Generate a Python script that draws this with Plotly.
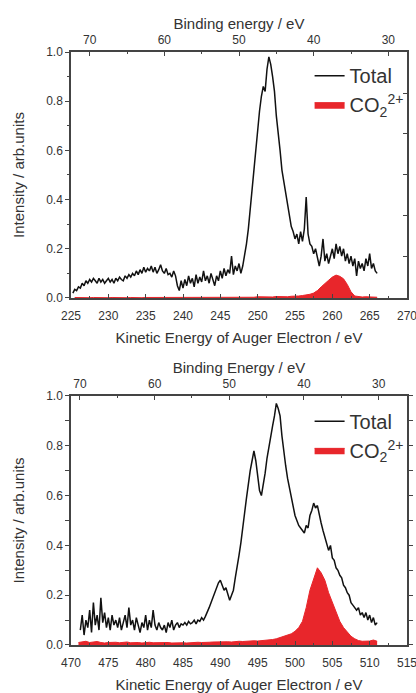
import plotly.graph_objects as go

# ---- C 1s Auger spectrum (kinetic energy, eV) ----
c_total_ke = [
    225.25, 225.5, 225.75, 226.0, 226.25, 226.5, 226.75, 227.0, 227.25, 227.5, 227.75, 228.0,
    228.25, 228.5, 228.75, 229.0, 229.25, 229.5, 229.75, 230.0, 230.25, 230.5, 230.75, 231.0,
    231.25, 231.5, 231.75, 232.0, 232.25, 232.5, 232.75, 233.0, 233.25, 233.5, 233.75, 234.0,
    234.25, 234.5, 234.75, 235.0, 235.25, 235.5, 235.75, 236.0, 236.25, 236.5, 236.75, 237.0,
    237.25, 237.5, 237.75, 238.0, 238.25, 238.5, 238.75, 239.0, 239.25, 239.5, 239.75, 240.0,
    240.25, 240.5, 240.75, 241.0, 241.25, 241.5, 241.75, 242.0, 242.25, 242.5, 242.75, 243.0,
    243.25, 243.5, 243.75, 244.0, 244.25, 244.5, 244.75, 245.0, 245.25, 245.5, 245.75, 246.0,
    246.25, 246.5, 246.75, 247.0, 247.25, 247.5, 247.75, 248.0, 248.25, 248.5, 248.75, 249.0,
    249.25, 249.5, 249.75, 250.0, 250.25, 250.5, 250.75, 251.0, 251.25, 251.5, 251.75, 252.0,
    252.25, 252.5, 252.75, 253.0, 253.25, 253.5, 253.75, 254.0, 254.25, 254.5, 254.75, 255.0,
    255.25, 255.5, 255.75, 256.0, 256.25, 256.5, 256.75, 257.0, 257.25, 257.5, 257.75, 258.0,
    258.25, 258.5, 258.75, 259.0, 259.25, 259.5, 259.75, 260.0, 260.25, 260.5, 260.75, 261.0,
    261.25, 261.5, 261.75, 262.0, 262.25, 262.5, 262.75, 263.0, 263.25, 263.5, 263.75, 264.0,
    264.25, 264.5, 264.75, 265.0, 265.25, 265.5, 265.75, 266.0,
]
c_total_int = [
    0.02, 0.035, 0.03, 0.045, 0.04, 0.06, 0.05, 0.07, 0.06, 0.075, 0.065, 0.08,
    0.07, 0.06, 0.08, 0.065, 0.075, 0.06, 0.07, 0.08, 0.065, 0.075, 0.06, 0.08,
    0.07, 0.085, 0.075, 0.07, 0.09, 0.08, 0.095, 0.085, 0.10, 0.09, 0.11, 0.095,
    0.115, 0.10, 0.125, 0.105, 0.12, 0.11, 0.13, 0.105, 0.125, 0.10, 0.115, 0.135,
    0.11, 0.10, 0.12, 0.095, 0.10, 0.085, 0.11, 0.09, 0.05, 0.03, 0.07, 0.04,
    0.075, 0.05, 0.09, 0.06, 0.08, 0.045, 0.095, 0.06, 0.085, 0.065, 0.11, 0.07,
    0.09, 0.06, 0.10, 0.075, 0.05, 0.09, 0.07, 0.11, 0.08, 0.12, 0.09, 0.115,
    0.10, 0.17, 0.095, 0.13, 0.11, 0.14, 0.10, 0.13, 0.17, 0.22, 0.28, 0.36,
    0.45, 0.55, 0.62, 0.70, 0.76, 0.82, 0.86, 0.84, 0.93, 0.98, 0.95, 0.90,
    0.84, 0.74, 0.68, 0.60, 0.52, 0.47, 0.42, 0.37, 0.33, 0.29, 0.27, 0.24,
    0.26, 0.22, 0.27, 0.23, 0.28, 0.41, 0.26, 0.22, 0.21, 0.18, 0.20, 0.16,
    0.13, 0.17, 0.24, 0.15, 0.18, 0.14, 0.17, 0.20, 0.16, 0.22, 0.18, 0.21,
    0.17, 0.20, 0.15, 0.18, 0.14, 0.17, 0.13, 0.16, 0.09, 0.15, 0.12, 0.14,
    0.11, 0.16, 0.13, 0.18, 0.12, 0.14, 0.11, 0.10,
]
c_dication_ke = [
    225.5, 226.0, 226.5, 227.0, 227.5, 228.0, 228.5, 229.0, 229.5, 230.0, 230.5, 231.0,
    231.5, 232.0, 232.5, 233.0, 233.5, 234.0, 234.5, 235.0, 235.5, 236.0, 236.5, 237.0,
    237.5, 238.0, 238.5, 239.0, 239.5, 240.0, 240.5, 241.0, 241.5, 242.0, 242.5, 243.0,
    243.5, 244.0, 244.5, 245.0, 245.5, 246.0, 246.5, 247.0, 247.5, 248.0, 248.5, 249.0,
    249.5, 250.0, 250.5, 251.0, 251.5, 252.0, 252.5, 253.0, 253.5, 254.0, 254.5, 255.0,
    255.5, 256.0, 256.5, 257.0, 257.5, 258.0, 258.5, 259.0, 259.5, 260.0, 260.5, 261.0,
    261.5, 262.0, 262.5, 263.0, 263.5, 264.0, 264.5, 265.0, 265.5, 266.0,
]
c_dication_int = [
    0.002, 0.001, 0.002, 0.002, 0.001, 0.002, 0.001, 0.002, 0.002, 0.001, 0.002, 0.001,
    0.002, 0.002, 0.001, 0.002, 0.001, 0.002, 0.001, 0.002, 0.002, 0.001, 0.002, 0.001,
    0.002, 0.002, 0.001, 0.002, 0.002, 0.001, 0.002, 0.002, 0.001, 0.002, 0.002, 0.001,
    0.002, 0.003, 0.002, 0.002, 0.003, 0.002, 0.003, 0.002, 0.003, 0.003, 0.002, 0.003,
    0.003, 0.005, 0.004, 0.006, 0.005, 0.004, 0.006, 0.005, 0.006, 0.005, 0.007, 0.006,
    0.008, 0.010, 0.012, 0.015, 0.020, 0.030, 0.045, 0.060, 0.072, 0.085, 0.093, 0.088,
    0.078, 0.055, 0.025, 0.008, 0.005, 0.004, 0.005, 0.004, 0.004, 0.003,
]

# ---- O 1s Auger spectrum (kinetic energy, eV) ----
o_total_ke = [
    471.25, 471.5, 471.75, 472.0, 472.25, 472.5, 472.75, 473.0, 473.25, 473.5, 473.75, 474.0,
    474.25, 474.5, 474.75, 475.0, 475.25, 475.5, 475.75, 476.0, 476.25, 476.5, 476.75, 477.0,
    477.25, 477.5, 477.75, 478.0, 478.25, 478.5, 478.75, 479.0, 479.25, 479.5, 479.75, 480.0,
    480.25, 480.5, 480.75, 481.0, 481.25, 481.5, 481.75, 482.0, 482.25, 482.5, 482.75, 483.0,
    483.25, 483.5, 483.75, 484.0, 484.25, 484.5, 484.75, 485.0, 485.25, 485.5, 485.75, 486.0,
    486.25, 486.5, 486.75, 487.0, 487.25, 487.5, 487.75, 488.0, 488.25, 488.5, 488.75, 489.0,
    489.25, 489.5, 489.75, 490.0, 490.25, 490.5, 490.75, 491.0, 491.25, 491.5, 491.75, 492.0,
    492.25, 492.5, 492.75, 493.0, 493.25, 493.5, 493.75, 494.0, 494.25, 494.5, 494.75, 495.0,
    495.25, 495.5, 495.75, 496.0, 496.25, 496.5, 496.75, 497.0, 497.25, 497.5, 497.75, 498.0,
    498.25, 498.5, 498.75, 499.0, 499.25, 499.5, 499.75, 500.0, 500.25, 500.5, 500.75, 501.0,
    501.25, 501.5, 501.75, 502.0, 502.25, 502.5, 502.75, 503.0, 503.25, 503.5, 503.75, 504.0,
    504.25, 504.5, 504.75, 505.0, 505.25, 505.5, 505.75, 506.0, 506.25, 506.5, 506.75, 507.0,
    507.25, 507.5, 507.75, 508.0, 508.25, 508.5, 508.75, 509.0, 509.25, 509.5, 509.75, 510.0,
    510.25, 510.5, 510.75, 511.0,
]
o_total_int = [
    0.06, 0.12, 0.04, 0.10, 0.07, 0.14, 0.05, 0.17, 0.08, 0.12, 0.06, 0.19,
    0.09, 0.13, 0.07, 0.11, 0.06, 0.12, 0.08, 0.10, 0.07, 0.11, 0.06, 0.09,
    0.12, 0.07, 0.15, 0.08, 0.10, 0.06, 0.11, 0.08, 0.05, 0.09, 0.07, 0.12,
    0.06, 0.10, 0.07, 0.14, 0.08, 0.06, 0.09, 0.07, 0.06, 0.08, 0.05, 0.09,
    0.07, 0.10, 0.06, 0.08, 0.09, 0.07, 0.085, 0.08, 0.09, 0.08, 0.095, 0.085,
    0.09, 0.10, 0.085, 0.10, 0.095, 0.11, 0.10, 0.115, 0.13, 0.15, 0.17, 0.19,
    0.21, 0.23, 0.25, 0.26, 0.24, 0.22, 0.23, 0.20, 0.18, 0.20, 0.22, 0.27,
    0.31, 0.36, 0.41, 0.46, 0.53, 0.59, 0.65, 0.70, 0.74, 0.78, 0.74, 0.68,
    0.62, 0.60, 0.64, 0.69, 0.75, 0.80, 0.84, 0.88, 0.92, 0.97, 0.95, 0.92,
    0.84, 0.77, 0.72, 0.67, 0.63, 0.59, 0.55, 0.52, 0.50, 0.48, 0.47, 0.46,
    0.45, 0.48, 0.47, 0.52, 0.54, 0.57, 0.55, 0.56, 0.52, 0.49, 0.46, 0.43,
    0.41, 0.38, 0.40, 0.35, 0.34, 0.31, 0.30, 0.28, 0.27, 0.24, 0.23, 0.21,
    0.20, 0.17, 0.16, 0.15, 0.14, 0.15, 0.12, 0.13, 0.11, 0.13, 0.10, 0.12,
    0.09, 0.11, 0.08, 0.09,
]
o_dication_ke = [
    471.0, 471.5, 472.0, 472.5, 473.0, 473.5, 474.0, 474.5, 475.0, 475.5, 476.0, 476.5,
    477.0, 477.5, 478.0, 478.5, 479.0, 479.5, 480.0, 480.5, 481.0, 481.5, 482.0, 482.5,
    483.0, 483.5, 484.0, 484.5, 485.0, 485.5, 486.0, 486.5, 487.0, 487.5, 488.0, 488.5,
    489.0, 489.5, 490.0, 490.5, 491.0, 491.5, 492.0, 492.5, 493.0, 493.5, 494.0, 494.5,
    495.0, 495.5, 496.0, 496.5, 497.0, 497.5, 498.0, 498.5, 499.0, 499.5, 500.0, 500.5,
    501.0, 501.5, 502.0, 502.5, 503.0, 503.5, 504.0, 504.5, 505.0, 505.5, 506.0, 506.5,
    507.0, 507.5, 508.0, 508.5, 509.0, 509.5, 510.0, 510.5, 511.0,
]
o_dication_int = [
    0.010, 0.012, 0.015, 0.010, 0.012, 0.014, 0.010, 0.008, 0.010, 0.012, 0.011, 0.009,
    0.010, 0.012, 0.009, 0.011, 0.010, 0.008, 0.010, 0.011, 0.009, 0.010, 0.008, 0.009,
    0.010, 0.008, 0.009, 0.010, 0.009, 0.008, 0.010, 0.009, 0.011, 0.010, 0.012, 0.011,
    0.012, 0.013, 0.012, 0.014, 0.013, 0.012, 0.014, 0.015, 0.014, 0.016, 0.015, 0.017,
    0.016, 0.017, 0.018, 0.020, 0.022, 0.025, 0.030, 0.035, 0.040, 0.045, 0.055, 0.070,
    0.095, 0.150, 0.220, 0.270, 0.310, 0.290, 0.260, 0.210, 0.170, 0.130, 0.095, 0.070,
    0.050, 0.035, 0.025, 0.018, 0.015, 0.014, 0.016, 0.020, 0.015,
]

# Core-level binding energies used for the upper (binding-energy) scales
c1s_binding = 297.5
o1s_binding = 541.2

ke_range_c = [225, 270]
ke_range_o = [470, 515]

FONT = "Liberation Sans, Arial, sans-serif"
TXT = "#333333"
AX = "#444444"
RED = "#e8262b"
LINE_W = 1.5

DICATION = "CO<sub>2</sub><sup>2+</sup>"

fig = go.Figure()

fig.add_trace(go.Scatter(x=c_total_ke, y=c_total_int, mode="lines", name="Total",
                         line=dict(color="#111111", width=LINE_W), legend="legend",
                         xaxis="x", yaxis="y"))
fig.add_trace(go.Scatter(x=c_dication_ke, y=c_dication_int, mode="lines",
                         name=DICATION, fill="tozeroy",
                         fillcolor=RED, line=dict(color=RED, width=1), legend="legend",
                         xaxis="x", yaxis="y"))
fig.add_trace(go.Scatter(x=o_total_ke, y=o_total_int, mode="lines", name="Total",
                         line=dict(color="#111111", width=LINE_W), legend="legend2",
                         xaxis="x2", yaxis="y2"))
fig.add_trace(go.Scatter(x=o_dication_ke, y=o_dication_int, mode="lines",
                         name=DICATION, fill="tozeroy",
                         fillcolor=RED, line=dict(color=RED, width=1), legend="legend2",
                         xaxis="x2", yaxis="y2"))

# Hidden copies of the total spectra on the binding-energy scales, so the
# upper axes (and the right-hand frame scale) are drawn.
hidden = dict(mode="lines", line=dict(width=0), opacity=0, showlegend=False,
              hoverinfo="skip")
fig.add_trace(go.Scatter(x=[c1s_binding - k for k in c_total_ke], y=c_total_int,
                         xaxis="x3", yaxis="y", **hidden))
fig.add_trace(go.Scatter(x=[o1s_binding - k for k in o_total_ke], y=o_total_int,
                         xaxis="x4", yaxis="y2", **hidden))
fig.add_trace(go.Scatter(x=c_total_ke, y=[v * 6 for v in c_total_int],
                         xaxis="x", yaxis="y3", **hidden))

tickfont = dict(family=FONT, size=12, color=TXT)
titlefont = dict(family=FONT, size=15, color=TXT)

ke_common = dict(showline=True, linecolor=AX, linewidth=1.5, ticks="inside", ticklen=4,
                 tickcolor=AX, tickwidth=1, dtick=5, showgrid=False, zeroline=False,
                 tickfont=tickfont, ticklabelstandoff=6, automargin=False,
                 ticklabeloverflow="allow",
                 minor=dict(ticks="inside", ticklen=2, dtick=2.5, tickcolor=AX))
be_common = dict(side="top", showline=True, linecolor=AX, linewidth=1.5, ticks="inside",
                 ticklen=4, tickcolor=AX, dtick=10, showgrid=False, zeroline=False,
                 tickfont=tickfont, ticklabelstandoff=1, automargin=False,
                 ticklabeloverflow="allow",
                 minor=dict(ticks="inside", ticklen=2, dtick=5, tickcolor=AX))
int_common = dict(range=[0, 1], dtick=0.2, tickformat=".1f", showline=True, linecolor=AX,
                  linewidth=1.5, ticks="outside", ticklen=4, tickcolor=AX, showgrid=False,
                  zeroline=False, tickfont=tickfont, automargin=False,
                  title=dict(text="Intensity / arb.units", font=titlefont, standoff=18),
                  minor=dict(ticks="outside", ticklen=2, dtick=0.1, tickcolor=AX))

legend_font = dict(family=FONT, size=20, color=TXT)

fig.update_layout(
    width=416, height=693,
    margin=dict(l=71, r=8, t=52, b=48),
    paper_bgcolor="white", plot_bgcolor="white",
    font=dict(family=FONT, color=TXT),
    xaxis=dict(range=ke_range_c, anchor="y",
               title=dict(text="Kinetic Energy of Auger Electron / eV", font=titlefont,
                          standoff=10), **ke_common),
    yaxis=dict(domain=[0.5852, 1], anchor="x", mirror=True, **int_common),
    xaxis2=dict(range=ke_range_o, anchor="y2",
                title=dict(text="Kinetic Energy of Auger Electron / eV", font=titlefont,
                           standoff=10), **ke_common),
    yaxis2=dict(domain=[0, 0.4199], anchor="x2", mirror="allticks", **int_common),
    xaxis3=dict(overlaying="x", anchor="y",
                range=[c1s_binding - ke_range_c[0], c1s_binding - ke_range_c[1]],
                title=dict(text="Binding energy / eV", font=titlefont, standoff=0),
                **be_common),
    xaxis4=dict(overlaying="x2", anchor="y2",
                range=[o1s_binding - ke_range_o[0], o1s_binding - ke_range_o[1]],
                title=dict(text="Binding Energy / eV", font=titlefont, standoff=0),
                **be_common),
    yaxis3=dict(overlaying="y", anchor="x", side="right", range=[0, 6], dtick=1,
                showticklabels=False, ticks="inside", ticklen=4, tickcolor=AX,
                showline=True, linecolor=AX, linewidth=1.5, showgrid=False,
                zeroline=False, automargin=False),
    legend=dict(x=0.708, y=0.993, xanchor="left", yanchor="top", font=legend_font,
                bgcolor="rgba(0,0,0,0)", tracegroupgap=0, itemwidth=30),
    legend2=dict(x=0.708, y=0.41, xanchor="left", yanchor="top", font=legend_font,
                 bgcolor="rgba(0,0,0,0)", tracegroupgap=0, itemwidth=30),
)

fig.write_html("out.html")
